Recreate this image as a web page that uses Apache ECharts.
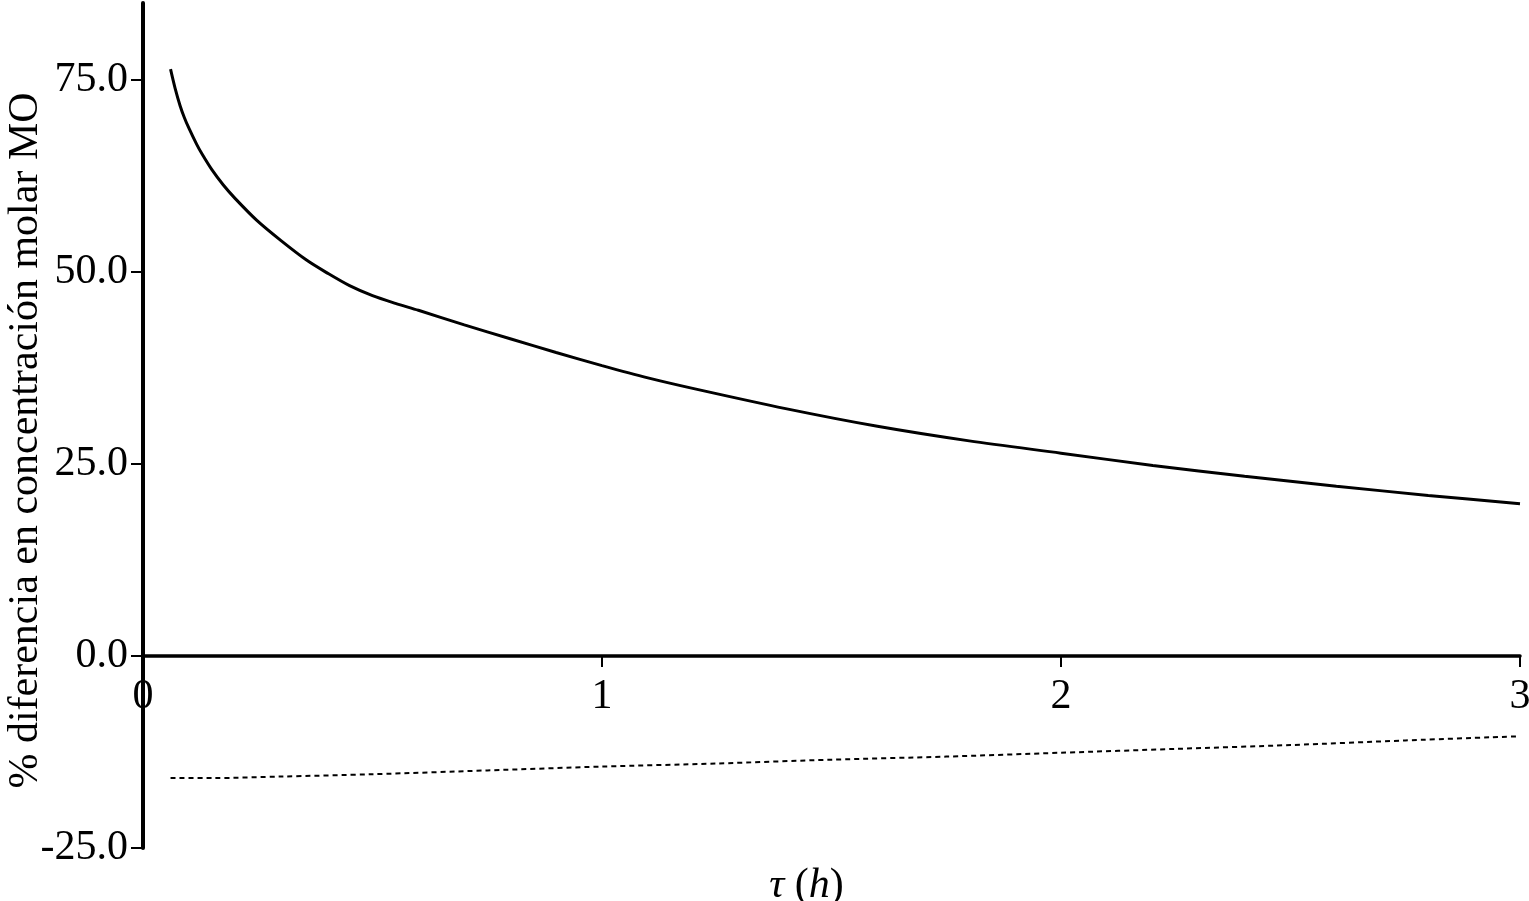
<!DOCTYPE html>
<html>
<head>
<meta charset="utf-8">
<script src="https://cdn.jsdelivr.net/npm/echarts@6/dist/echarts.min.js"></script>
<style>
html,body{margin:0;padding:0;background:#fff;}
#chart{width:1529px;height:901px;}
</style>
</head>
<body>
<div id="chart"></div>
<script>
// tau (h) values of the curves
var tauSolid = [0.060, 0.070, 0.081, 0.090, 0.100, 0.117, 0.130, 0.150, 0.175, 0.200, 0.248, 0.300, 0.357, 0.400, 0.450, 0.500, 0.550, 0.600, 0.700, 0.800, 0.900, 1.00, 1.10, 1.20, 1.40, 1.60, 1.80, 2.00, 2.20, 2.40, 2.60, 2.80, 3.00];
var pctSolid = [76.4, 73.9, 71.6, 70.1, 68.7, 66.6, 65.2, 63.3, 61.3, 59.6, 56.7, 54.1, 51.5, 49.9, 48.2, 46.9, 45.9, 45.0, 43.1, 41.3, 39.5, 37.8, 36.2, 34.8, 32.2, 29.9, 28.0, 26.4, 24.8, 23.4, 22.1, 20.9, 19.8];
var tauDotted = [0.06, 0.15, 0.30, 0.50, 0.75, 1.00, 1.25, 1.50, 1.75, 2.00, 2.25, 2.50, 2.75, 3.00];
var pctDotted = [-15.9, -15.9, -15.7, -15.4, -14.9, -14.4, -14.0, -13.5, -13.1, -12.6, -12.1, -11.6, -11.0, -10.45];
var yTicks = [-25, 0, 25, 50, 75];
var xTicks = [0, 1, 2, 3];

function pairs(xs, ys){ return xs.map(function(x,i){ return [x, ys[i]]; }); }

var chart = echarts.init(document.getElementById('chart'), null, {renderer:'canvas'});
var font = 'Liberation Serif, Times New Roman, serif';
var FS = 42;
var option = {
  animation: false,
  backgroundColor: '#ffffff',
  grid: {left: 143, right: 9, top: 3, bottom: 53, containLabel: false, outerBoundsMode: 'none'},
  xAxis: {
    type: 'value', min: 0, max: 3, interval: 1, position: 'bottom', offset: 0,
    axisLine: {onZero: false, lineStyle: {color: '#000', width: 3.5}},
    axisTick: {show: true, inside: false, length: 11, lineStyle: {color: '#000', width: 2}},
    axisLabel: {color: '#000', fontFamily: font, fontSize: FS, margin: 20, customValues: xTicks},
    splitLine: {show: false},
    name: '{i|τ} ({i|h})',
    nameLocation: 'middle',
    nameGap: 209,
    nameMoveOverlap: false,
    nameTextStyle: {
      color: '#000', fontFamily: font, fontSize: FS, padding: [0, 50, 0, 0],
      rich: {i: {fontStyle: 'italic', fontFamily: font, fontSize: FS, color: '#000'}}
    }
  },
  yAxis: {
    type: 'value', min: -25, max: 85, interval: 25,
    axisLine: {lineStyle: {color: '#000', width: 4}},
    axisTick: {show: true, length: 12, lineStyle: {color: '#000', width: 2}, customValues: yTicks},
    axisLabel: {color: '#000', fontFamily: font, fontSize: FS, margin: 15, customValues: yTicks,
      formatter: function(v){ return v.toFixed(1); }},
    splitLine: {show: false},
    name: '% diferencia en concentración molar MO',
    nameLocation: 'middle',
    nameGap: 96,
    nameMoveOverlap: false,
    nameTextStyle: {color: '#000', fontFamily: font, fontSize: FS, padding: [0, 30, 0, 0]}
  },
  series: [
    {type: 'line', data: pairs(tauSolid, pctSolid), smooth: 0.3, showSymbol: false,
     lineStyle: {color: '#000', width: 3}},
    {type: 'line', data: pairs(tauDotted, pctDotted), smooth: 0.3, showSymbol: false,
     lineStyle: {color: '#000', width: 2, type: [5, 4]}}
  ]
};
chart.setOption(option);
// move the x axis up to y = 0 using the library's own scale
var yZero = chart.convertToPixel({yAxisIndex: 0}, 0);
var yMin = chart.convertToPixel({yAxisIndex: 0}, -25);
chart.setOption({xAxis: {offset: -(yMin - yZero)}});
</script>
</body>
</html>
